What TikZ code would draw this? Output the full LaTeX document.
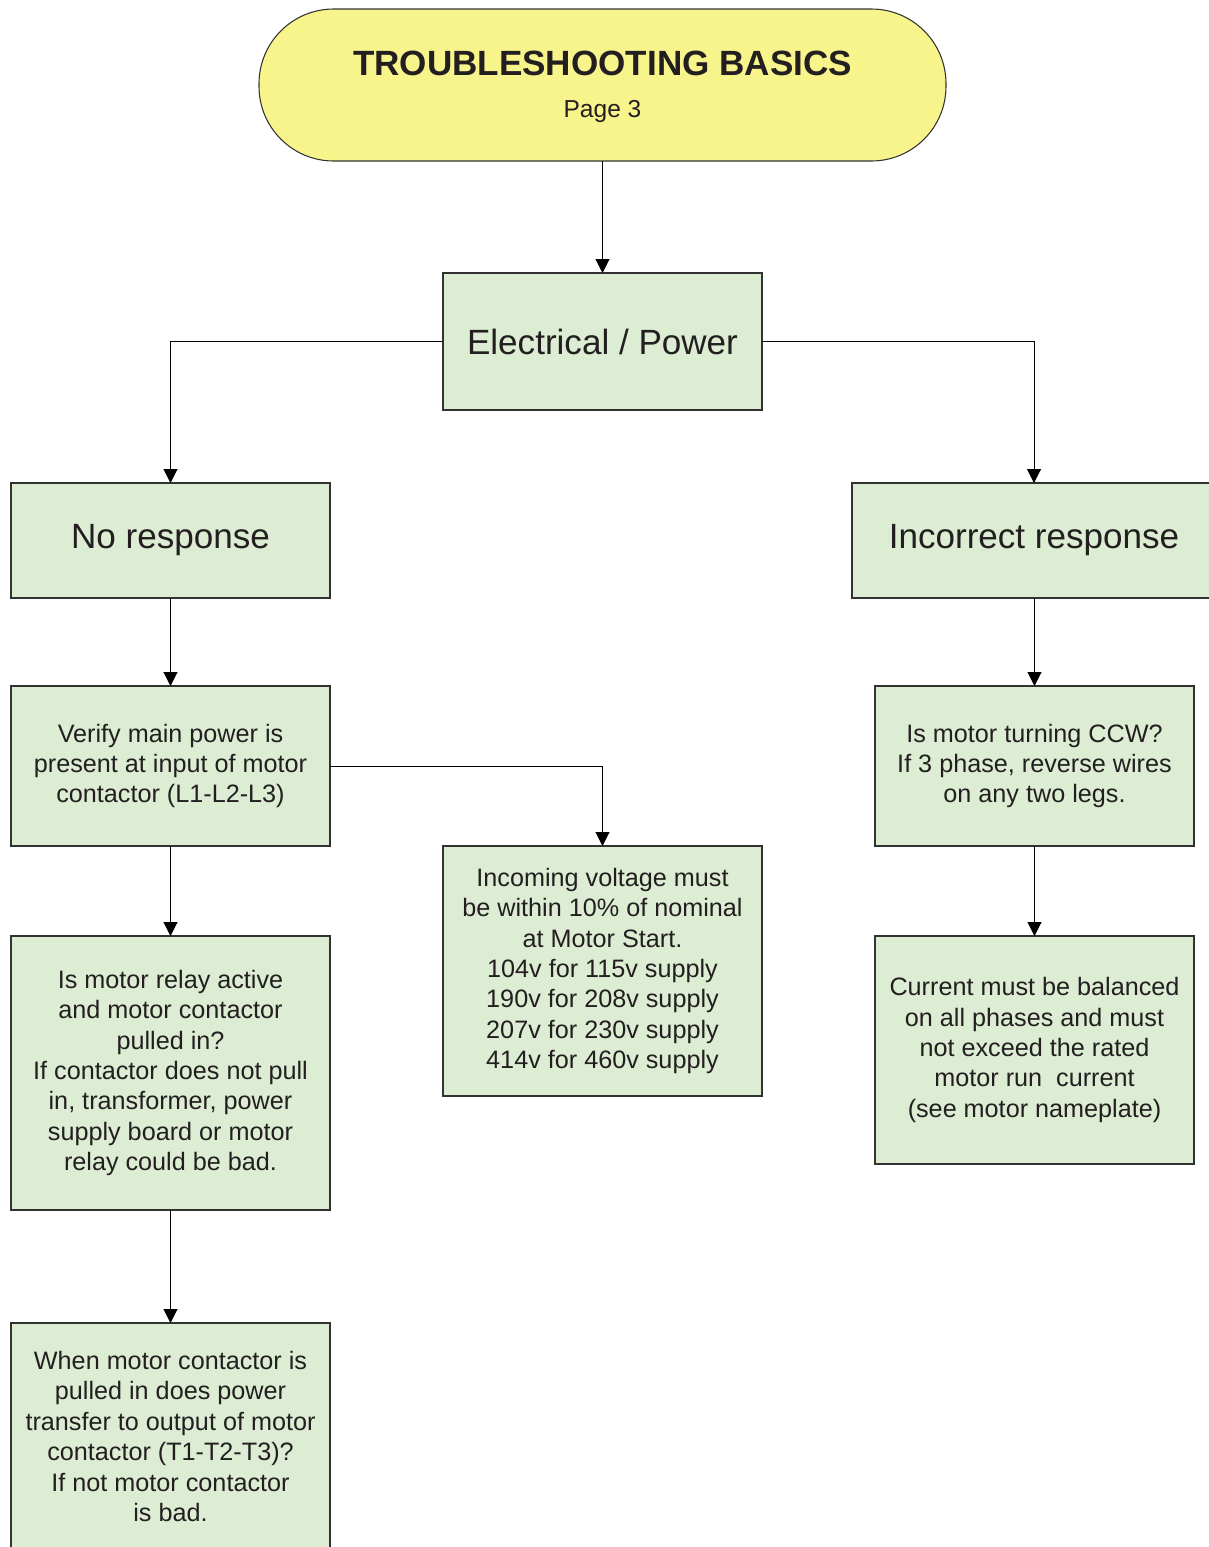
\documentclass[tikz,border=0pt]{standalone}
\usepackage{fontspec}
\setmainfont{Liberation Sans}
\usetikzlibrary{arrows.meta}

\definecolor{titlefill}{RGB}{248,244,140}
\definecolor{boxfill}{RGB}{220,237,211}
\definecolor{inkgray}{RGB}{35,31,32}
\definecolor{edgegray}{RGB}{50,50,50}

\tikzset{
  stepbox/.style={draw=edgegray, fill=boxfill, line width=0.8pt, inner sep=0pt,
    outer sep=0pt, align=center, text=inkgray,
    font=\fontsize{18.9}{22.8}\selectfont},
  bigbox/.style={stepbox, font=\fontsize{26.3}{31}\selectfont},
  stadium/.style={draw=edgegray, fill=titlefill, line width=0.8pt,
    rounded corners=56pt, inner sep=0pt, outer sep=0pt,
    minimum width=515.25pt, minimum height=114pt},
  link/.style={draw=black, line width=0.75pt,
    -{Triangle[length=10.5pt,width=10.5pt]}},
}

\begin{document}
\begin{tikzpicture}[x=0.75pt, y=-0.75pt]
  \useasboundingbox (0,0) rectangle (1209,1547);
  \clip (0,0) rectangle (1209,1547);

  % heading
  \node[stadium] (title) at (602.5,85) {};
  \node[anchor=base, text=inkgray, inner sep=0pt,
        font=\fontsize{26.3}{31}\selectfont\bfseries] (titletext) at (602.5,75)
        {TROUBLESHOOTING BASICS};
  \node[anchor=base, text=inkgray, inner sep=0pt,
        font=\fontsize{18.4}{22}\selectfont] (pagetext) at (602.5,117) {Page 3};

  % main branch
  \node[bigbox, minimum width=239.25pt, minimum height=102.75pt] (elec)
        at (602.5,341.5) {Electrical / Power};
  \node[bigbox, minimum width=239.25pt, minimum height=86.25pt] (nores)
        at (170.5,540.5) {No response};
  \node[bigbox, minimum width=273pt, minimum height=86.25pt] (incor)
        at (1034,540.5) {Incorrect response};

  % no-response column
  \node[stepbox, minimum width=239.25pt, minimum height=120pt] (verify)
        at (170.5,766) {Verify main power is\\present at input of motor\\contactor (L1-L2-L3)};
  \node[stepbox, minimum width=239.25pt, minimum height=187.5pt] (incoming)
        at (602.5,971) {Incoming voltage must\\be within 10\% of nominal\\at Motor Start.\\104v for 115v supply\\190v for 208v supply\\207v for 230v supply\\414v for 460v supply};
  \node[stepbox, minimum width=239.25pt, minimum height=205.5pt] (relay)
        at (170.5,1073) {Is motor relay active\\and motor contactor\\pulled in?\\If contactor does not pull\\in, transformer, power\\supply board or motor\\relay could be bad.};
  \node[stepbox, minimum width=239.25pt, minimum height=170.25pt] (output)
        at (170.5,1436.5) {When motor contactor is\\pulled in does power\\transfer to output of motor\\contactor (T1-T2-T3)?\\If not motor contactor\\is bad.};

  % incorrect-response column
  \node[stepbox, minimum width=239.25pt, minimum height=120pt] (turning)
        at (1034.5,766) {Is motor turning CCW?\\If 3 phase, reverse wires\\on any two legs.};
  \node[stepbox, minimum width=239.25pt, minimum height=171pt] (current)
        at (1034.5,1050) {Current must be balanced\\on all phases and must\\not exceed the rated\\motor run\ \ current\\(see motor nameplate)};

  % connectors
  \draw[link] (title.south) -- (elec.north);
  \draw[link] (elec.west) -| (nores.north);
  \draw[link] (elec.east) -| (incor.north);
  \draw[link] (nores.south) -- (verify.north);
  \draw[link] (verify.east) -| (incoming.north);
  \draw[link] (verify.south) -- (relay.north);
  \draw[link] (relay.south) -- (output.north);
  \draw[link] (incor.south -| turning.north) -- (turning.north);
  \draw[link] (turning.south) -- (current.north);
\end{tikzpicture}
\end{document}
